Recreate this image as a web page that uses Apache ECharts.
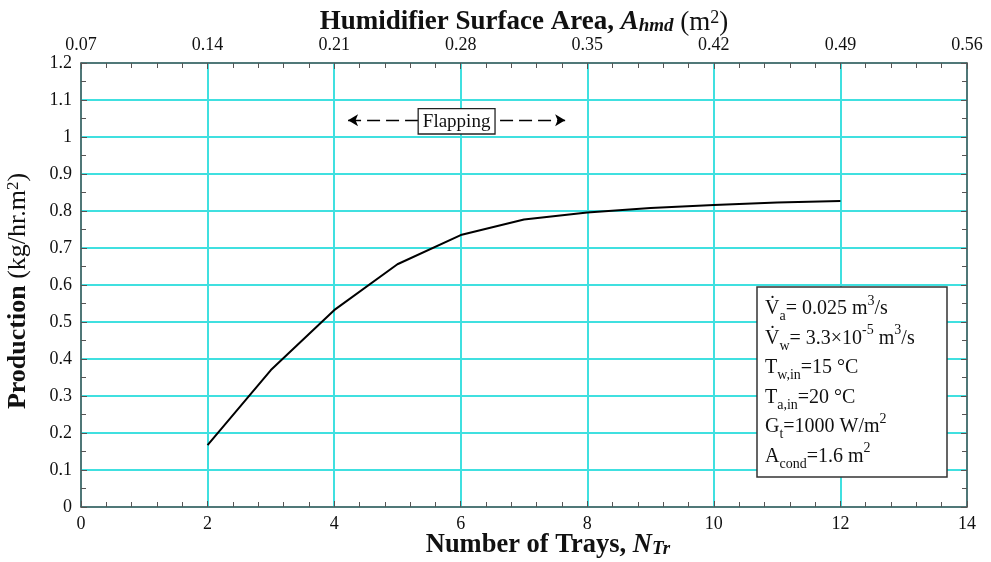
<!DOCTYPE html>
<html>
<head>
<meta charset="utf-8">
<script src="https://cdn.jsdelivr.net/npm/echarts@6/dist/echarts.min.js"></script>
<style>
  html, body { margin: 0; padding: 0; background: #fff; }
  #chart { width: 991px; height: 562px; }
</style>
</head>
<body>
<div id="chart"></div>
<script>
// data
const trays = [2, 3, 4, 5, 6, 7, 8, 9, 10, 11, 12];
const production = [0.167, 0.370, 0.532, 0.656, 0.735, 0.777, 0.796, 0.808, 0.816, 0.823, 0.827];
const areaTicks = ['0.07', '0.14', '0.21', '0.28', '0.35', '0.42', '0.49', '0.56'];
const flappingRange = [4.22, 7.65];
const flappingLevel = 1.045;

const FONT = 'Liberation Serif';
const GRID_COLOR = '#40e0e0';
const AXIS_COLOR = '#555';

const chart = echarts.init(document.getElementById('chart'), null, { renderer: 'canvas' });

const axisCommon = {
    axisLine: { show: true, onZero: false, lineStyle: { color: AXIS_COLOR, width: 1.5 } },
    axisTick: { show: true, inside: true, length: 6, lineStyle: { color: AXIS_COLOR } },
    axisLabel: { fontFamily: FONT, fontSize: 18, color: '#111' },
    nameMoveOverlap: false
};

const option = {
    animation: false,
    textStyle: { fontFamily: FONT },
    grid: { left: 81, right: 24, top: 63, bottom: 55, containLabel: false, outerBoundsMode: 'none' },
    title: {
        left: 757,
        top: 287,
        padding: [7, 33, 6, 8],
        borderColor: '#333',
        borderWidth: 1.5,
        backgroundColor: '#fff',
        text: [
            '{t|V̇}{sub|a}{t|= 0.025 m}{sup|3}{t|/s}',
            '{t|V̇}{sub|w}{t|= 3.3×10}{sup|-5}{t| m}{sup|3}{t|/s}',
            '{t|T}{sub|w,in}{t|=15 °C}',
            '{t|T}{sub|a,in}{t|=20 °C}',
            '{t|G}{sub|t}{t|=1000 W/m}{sup|2}',
            '{t|A}{sub|cond}{t|=1.6 m}{sup|2}'
        ].join('\n'),
        textStyle: {
            fontFamily: FONT,
            fontWeight: 'normal',
            rich: {
                t: { fontFamily: FONT, fontSize: 20, fontWeight: 'normal', lineHeight: 29.5, color: '#111' },
                sub: { fontFamily: FONT, fontSize: 14, fontWeight: 'normal', lineHeight: 18, verticalAlign: 'bottom', color: '#111' },
                sup: { fontFamily: FONT, fontSize: 14, fontWeight: 'normal', lineHeight: 18, verticalAlign: 'top', color: '#111' }
            }
        }
    },
    xAxis: [
        Object.assign({}, axisCommon, {
            type: 'value',
            position: 'bottom',
            min: 0, max: 14, interval: 2,
            minorTick: { show: true, splitNumber: 5, length: 5, lineStyle: { color: AXIS_COLOR } },
            splitLine: { show: true, lineStyle: { color: GRID_COLOR, width: 2 } },
            axisLabel: Object.assign({}, axisCommon.axisLabel, { margin: 8 }),
            name: '{b|Number of Trays, }{bi|N}{bis|Tr}',
            nameLocation: 'middle',
            nameGap: 25,
            nameTextStyle: {
                padding: [0, 0, 0, 48],
                rich: {
                    b: { fontFamily: FONT, fontSize: 26.5, fontWeight: 'bold', color: '#111' },
                    bi: { fontFamily: FONT, fontSize: 26.5, fontWeight: 'bold', fontStyle: 'italic', color: '#111' },
                    bis: { fontFamily: FONT, fontSize: 19, fontWeight: 'bold', fontStyle: 'italic', color: '#111', verticalAlign: 'bottom', lineHeight: 22 }
                }
            }
        }),
        Object.assign({}, axisCommon, {
            type: 'value',
            position: 'top',
            min: 0, max: 14, interval: 2,
            minorTick: { show: true, splitNumber: 5, length: 5, lineStyle: { color: AXIS_COLOR } },
            splitLine: { show: false },
            axisLabel: Object.assign({}, axisCommon.axisLabel, {
                margin: 9,
                formatter: v => areaTicks[Math.round(v / 2)]
            }),
            name: '{b|Humidifier Surface Area, }{bi|A}{bis|hmd}{n| (m}{sup|2}{n|)}',
            nameLocation: 'middle',
            nameGap: 27,
            nameTextStyle: {
                rich: {
                    b: { fontFamily: FONT, fontSize: 27, fontWeight: 'bold', color: '#111' },
                    bi: { fontFamily: FONT, fontSize: 27, fontWeight: 'bold', fontStyle: 'italic', color: '#111' },
                    bis: { fontFamily: FONT, fontSize: 19, fontWeight: 'bold', fontStyle: 'italic', color: '#111', verticalAlign: 'bottom', lineHeight: 22 },
                    n: { fontFamily: FONT, fontSize: 27, color: '#111' },
                    sup: { fontFamily: FONT, fontSize: 18, color: '#111', verticalAlign: 'top', lineHeight: 22 }
                }
            }
        })
    ],
    yAxis: [
        Object.assign({}, axisCommon, {
            type: 'value',
            position: 'left',
            min: 0, max: 1.2, interval: 0.1,
            minorTick: { show: true, splitNumber: 2, length: 5, lineStyle: { color: AXIS_COLOR } },
            splitLine: { show: true, lineStyle: { color: GRID_COLOR, width: 2 } },
            axisLabel: Object.assign({}, axisCommon.axisLabel, {
                margin: 9,
                formatter: v => String(Math.round(v * 10) / 10)
            }),
            name: '{b|Production }{n|(kg/hr.m}{sup|2}{n|)}',
            nameLocation: 'middle',
            nameGap: 50,
            nameTextStyle: {
                padding: [0, 12, 0, 0],
                rich: {
                    b: { fontFamily: FONT, fontSize: 26, fontWeight: 'bold', color: '#111' },
                    n: { fontFamily: FONT, fontSize: 26, color: '#111' },
                    sup: { fontFamily: FONT, fontSize: 17, color: '#111', verticalAlign: 'top', lineHeight: 20 }
                }
            }
        }),
        Object.assign({}, axisCommon, {
            type: 'value',
            position: 'right',
            min: 0, max: 1.2, interval: 0.1,
            minorTick: { show: true, splitNumber: 2, length: 5, lineStyle: { color: AXIS_COLOR } },
            splitLine: { show: false },
            axisLabel: { show: false }
        })
    ],
    series: [
        {
            type: 'line',
            xAxisIndex: 0,
            yAxisIndex: 0,
            data: trays.map((n, i) => [n, production[i]]),
            showSymbol: false,
            symbol: 'none',
            lineStyle: { color: '#000', width: 2 },
            z: 5,
            markLine: {
                silent: true,
                symbol: ['arrow', 'arrow'],
                symbolSize: [9, 10],
                lineStyle: { color: '#000', width: 1.3, type: [13, 6] },
                label: {
                    show: true,
                    position: 'middle',
                    formatter: 'Flapping',
                    fontFamily: FONT,
                    fontSize: 19,
                    color: '#111',
                    backgroundColor: '#fff',
                    borderColor: '#222',
                    borderWidth: 1.3,
                    padding: [3, 4, 2, 4],
                    distance: 0,
                    offset: [0, 13]
                },
                data: [[
                    { coord: [flappingRange[0], flappingLevel] },
                    { coord: [flappingRange[1], flappingLevel] }
                ]]
            }
        }
    ]
};

chart.setOption(option);
</script>
</body>
</html>
